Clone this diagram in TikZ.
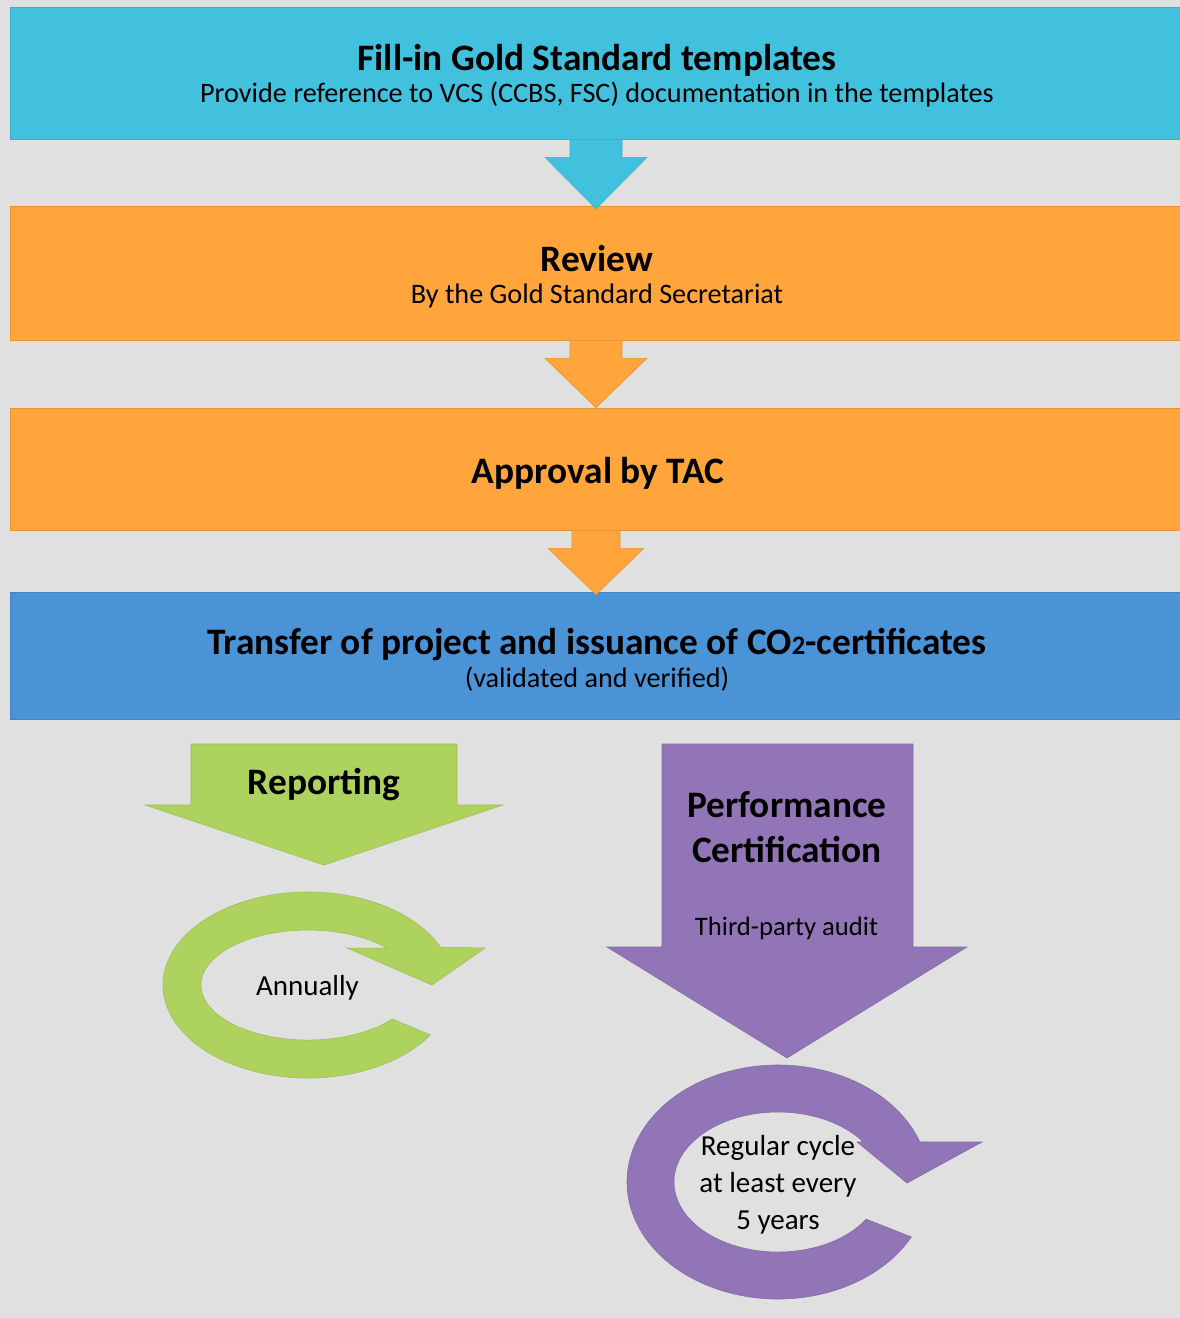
\documentclass[tikz,border=0pt]{standalone}
\usepackage{fontspec}
\setmainfont{Carlito}
\usetikzlibrary{calc}

\definecolor{bgGrey}{HTML}{E0E0E0}
\definecolor{stepCyan}{HTML}{42C1DF}
\definecolor{stepOrange}{HTML}{FFA53B}
\definecolor{stepBlue}{HTML}{4B93D7}
\definecolor{cycGreen}{HTML}{AED25E}
\definecolor{cycPurple}{HTML}{9275B7}

\begin{document}
\begin{tikzpicture}[x=0.75pt,y=-0.75pt,
  band/.style={rectangle, inner sep=0pt, minimum width=1172*0.75pt,
               fill=#1, draw=#1!90!black, line width=0.5pt},
  shape fill/.style={fill=#1, draw=#1!90!black, line width=0.4pt},
  headline/.style={anchor=base, inner sep=0pt,
                   font=\bfseries\fontsize{28}{33.75}\selectfont},
  subline/.style={anchor=base, inner sep=0pt,
                  font=\fontsize{21.15}{25}\selectfont},
  cycletext/.style={anchor=base, inner sep=0pt, align=center,
                    font=\fontsize{21.75}{27.4}\selectfont}
]
% page
\fill[bgGrey] (0,0) rectangle (1180,1318);
\useasboundingbox (0,0) rectangle (1180,1318);

% process bands
\node[band=stepCyan,   minimum height=132*0.75pt] (fillin)   at (596,73)    {};
\node[band=stepOrange, minimum height=134*0.75pt] (review)   at (596,273)   {};
\node[band=stepOrange, minimum height=122*0.75pt] (approval) at (596,469)   {};
\node[band=stepBlue,   minimum height=127*0.75pt] (transfer) at (596,655.5) {};

% block arrows between the bands
\path[shape fill=stepCyan]
  ($(fillin.south)+(-26,0)$) -- ($(fillin.south)+(26,0)$)
  -- ($(fillin.south)+(26,18)$) -- ($(fillin.south)+(51,18)$)
  -- ($(review.north)+(0,3)$)
  -- ($(fillin.south)+(-51,18)$) -- ($(fillin.south)+(-26,18)$) -- cycle;
\path[shape fill=stepOrange]
  ($(review.south)+(-26,0)$) -- ($(review.south)+(26,0)$)
  -- ($(review.south)+(26,18)$) -- ($(review.south)+(51,18)$)
  -- ($(approval.north)+(0,0)$)
  -- ($(review.south)+(-51,18)$) -- ($(review.south)+(-26,18)$) -- cycle;
\path[shape fill=stepOrange]
  ($(approval.south)+(-24,0)$) -- ($(approval.south)+(24,0)$)
  -- ($(approval.south)+(24,18)$) -- ($(approval.south)+(48,18)$)
  -- ($(transfer.north)+(0,3)$)
  -- ($(approval.south)+(-48,18)$) -- ($(approval.south)+(-24,18)$) -- cycle;

% band texts
\node[headline] (fillinT) at (597,70) {Fill-in Gold Standard templates};
\node[subline]  (fillinS) at (597,102) {Provide reference to VCS (CCBS, FSC) documentation in the templates};
\node[headline] (reviewT) at (597,271) {Review};
\node[subline]  (reviewS) at (597,303) {By the Gold Standard Secretariat};
\node[headline] (approvalT) at (598,483) {Approval by TAC};
\node[headline] (transferT) at (597,654)
  {Transfer of project and issuance of CO{\fontsize{20}{20}\selectfont 2}-certificates};
\node[subline]  (transferS) at (597,687) {(validated and verified)};

% reporting branch
\path[shape fill=cycGreen]
  (191,744) -- (457,744) -- (457,805) -- (503,805) -- (324,865)
  -- (145,805) -- (191,805) -- cycle;
\node[headline] (reportT) at (324,794) {Reporting};
\path[shape fill=cycGreen]
  (308,985) ++(-24:145 and 93)
  arc[start angle=-24, end angle=-327.5, x radius=145, y radius=93]
  -- (392.3,1018.9)
  arc[start angle=-322, end angle=-42, x radius=107, y radius=55]
  -- (347,948) -- (432,985) -- (485,948) -- cycle;
\node[cycletext] (annual) at (307.5,995) {Annually};

% certification branch
\path[shape fill=cycPurple]
  (662,744) -- (913,744) -- (913,947) -- (967,947) -- (787,1058)
  -- (607,947) -- (662,947) -- cycle;
% multi-line nodes sit on the baseline of their last line
\node[headline, align=center] (perfT) at (787,862) {Performance\\Certification};
\node[anchor=base, inner sep=0pt, font=\fontsize{20}{24}\selectfont]
  (perfS) at (786.5,935) {Third-party audit};
\path[shape fill=cycPurple]
  (778,1182) ++(-20:151 and 117)
  arc[start angle=-20, end angle=-332, x radius=151, y radius=117]
  -- (866.2,1219.1)
  arc[start angle=-328, end angle=-35, x radius=104, y radius=70]
  -- (857,1142) -- (907,1183) -- (982,1142) -- cycle;
\node[cycletext] (regular) at (778,1229) {Regular cycle\\at least every\\5 years};
\end{tikzpicture}
\end{document}
